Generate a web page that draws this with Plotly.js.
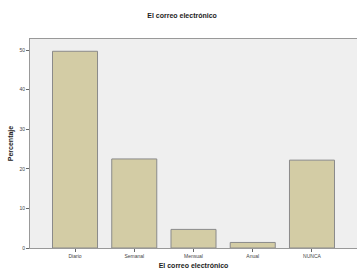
<!DOCTYPE html>
<html><head><meta charset="utf-8">
<script src="https://cdn.plot.ly/plotly-3.0.1.min.js"></script>
<style>html,body{margin:0;padding:0;background:#fff}#c{width:357px;height:274px}</style>
</head><body><div id="c"></div>
<script>
const categories = ["Diario", "Semanal", "Mensual", "Anual", "NUNCA"];
const percentages = [49.7, 22.5, 4.7, 1.4, 22.2];
const yTicks = [0, 10, 20, 30, 40, 50];

Plotly.newPlot('c', [{
  type: 'bar',
  x: categories,
  y: percentages,
  width: 0.76,
  marker: {color: '#d3cca5', line: {color: '#8a8a8a', width: 1}},
  hoverinfo: 'none'
}], {
  width: 357, height: 274,
  margin: {l: 30, r: 0, t: 39, b: 26, pad: 0},
  paper_bgcolor: '#ffffff',
  plot_bgcolor: '#efefef',
  title: {text: '<b>El correo electrónico</b>', font: {family: 'Liberation Sans, Arial', size: 7, color: '#222'}, x: 0.51, xanchor: 'center', y: 0.945, yanchor: 'middle'},
  xaxis: {
    range: [-0.76, 4.76], showgrid: false, zeroline: false,
    ticks: 'outside', ticklen: 3, tickcolor: '#666', tickwidth: 1,
    tickfont: {family: 'Liberation Sans, Arial', size: 5, color: '#444'},
    showline: true, linecolor: '#999', mirror: true,
    title: {text: '<b>El correo electrónico</b>', font: {family: 'Liberation Sans, Arial', size: 7, color: '#222'}, standoff: 5}
  },
  yaxis: {
    range: [0, 52.8], tickvals: yTicks, showgrid: false, zeroline: false,
    ticks: 'outside', ticklen: 3, tickcolor: '#666', tickwidth: 1,
    tickfont: {family: 'Liberation Sans, Arial', size: 5, color: '#444'},
    showline: true, linecolor: '#999', mirror: true,
    title: {text: '<b>Percentaje</b>', font: {family: 'Liberation Sans, Arial', size: 7, color: '#222'}, standoff: 4}
  },
  bargap: 0.24,
  showlegend: false
}, {displayModeBar: false, staticPlot: true});
</script></body></html>
